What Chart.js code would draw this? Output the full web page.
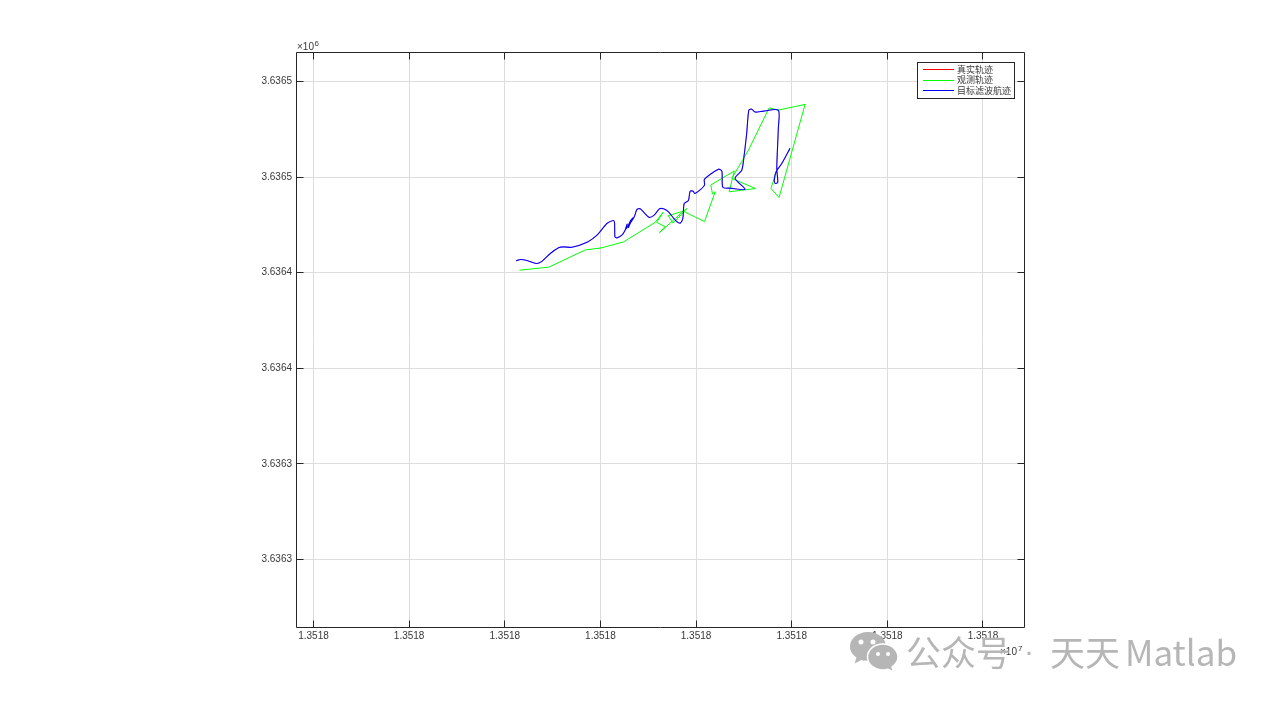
<!DOCTYPE html>
<html lang="zh">
<head>
<meta charset="UTF-8" />
<title>轨迹</title>
<script src="https://cdn.jsdelivr.net/npm/chart.js"></script>
<style>
  * { margin: 0; padding: 0; box-sizing: border-box; }
  body { background: #fff; width: 1276px; height: 704px; overflow: hidden; position: relative; }
  .mark { position: absolute; top: 625px; font: 35px/52px "Noto Sans CJK SC", sans-serif; color: #b6b6b6; white-space: nowrap; }
  #icon { position: absolute; left: 849px; top: 631px; }
</style>
</head>
<body>
<canvas id="chart" width="1276" height="704"></canvas>
<svg id="icon" width="50" height="41" viewBox="0 0 50 41">
  <path d="M19 1C9 1 1 7.500 1 15.500c0 4.500 2.500 8.500 6.500 11l-2 6 7-3.500c2 .6 4 .9 6.500 .9C29 30 37 23.500 37 15.500S29 1 19 1z" fill="#b6b6b6"/>
  <path d="M34 13c-9 0-15.500 6-15.500 13S25 39 34 39c2 0 3.500-.3 5-.8l5.500 2.800-1.500-5c3.500-2.500 6-6 6-10 0-7-6.500-13-15-13z" fill="#b6b6b6" stroke="#fff" stroke-width="1.500"/>
  <circle cx="12" cy="11" r="2.500" fill="#fff"/><circle cx="24" cy="11" r="2.500" fill="#fff"/>
  <circle cx="29" cy="23" r="2" fill="#fff"/><circle cx="39" cy="23" r="2" fill="#fff"/>
</svg>
<div class="mark" style="left:906px">公众号</div>
<div class="mark" style="left:1024px;font:30px/52px 'Liberation Sans',sans-serif">·</div>
<div class="mark" style="left:1050px">天天</div>
<div class="mark" style="left:1125px">Matlab</div>
<script>
const seriesNames = ['真实轨迹', '观测轨迹', '目标滤波航迹'];
const seriesColors = ['#ff0000', '#00ff00', '#0000ff'];

const xTicks = [13517850, 13517900, 13517950, 13518000, 13518050, 13518100, 13518150, 13518200];
const xTickLabels = ['1.3518', '1.3518', '1.3518', '1.3518', '1.3518', '1.3518', '1.3518', '1.3518'];
const yTicks = [3636250, 3636300, 3636350, 3636400, 3636450, 3636500];
const yTickLabels = ['3.6363', '3.6363', '3.6364', '3.6364', '3.6365', '3.6365'];

const filterX = [13517956.0, 13517958.1, 13517961.6, 13517966.5, 13517969.4, 13517973.8, 13517978.1, 13517980.7, 13517985.1,
  13517993.3, 13517998.2, 13518003.4, 13518006.8, 13518007.4, 13518007.6, 13518008.6, 13518011.2, 13518012.9, 13518014.0,
  13518013.2, 13518014.4, 13518015.9, 13518014.6, 13518016.8, 13518015.3, 13518017.7, 13518019.1, 13518020.8, 13518022.9, 13518025.5, 13518028.1, 13518030.9, 13518033.0,
  13518035.6, 13518039.1, 13518041.7, 13518043.1, 13518043.8, 13518046.0, 13518046.9, 13518048.6, 13518049.2, 13518052.1,
  13518054.4, 13518054.4, 13518061.7, 13518063.5, 13518064.0, 13518067.8, 13518075.6, 13518070.4, 13518073.9, 13518075.1,
  13518076.5, 13518077.6, 13518079.1, 13518080.9, 13518085.2, 13518093.0, 13518093.0, 13518092.2, 13518092.7, 13518091.3,
  13518090.9, 13518091.8, 13518094.8, 13518099.1];
const filterY = [3636406.2, 3636406.9, 3636406.4, 3636404.8, 3636405.9, 3636410.0, 3636413.0, 3636413.5, 3636413.3,
  3636416.1, 3636419.6, 3636425.7, 3636427.3, 3636425.9, 3636418.7, 3636418.2, 3636419.6, 3636422.2, 3636425.4,
  3636422.8, 3636424.4, 3636427.5, 3636423.6, 3636428.6, 3636425.6, 3636429.2, 3636433.1, 3636433.4, 3636431.3, 3636428.9, 3636430.1, 3636433.4, 3636433.4,
  3636431.8, 3636427.5, 3636425.9, 3636428.4, 3636436.2, 3636437.7, 3636442.6, 3636442.6, 3636441.4, 3636443.3,
  3636445.8, 3636448.9, 3636454.1, 3636453.1, 3636444.6, 3636444.2, 3636443.6, 3636449.3, 3636453.6, 3636461.1,
  3636473.2, 3636485.0, 3636485.5, 3636484.0, 3636484.5, 3636485.0, 3636475.4, 3636454.5, 3636447.2, 3636446.7,
  3636448.4, 3636452.7, 3636457.1, 3636465.0];

// the red true track lies fully under the blue one in the picture
const trueX = filterX;
const trueY = filterY;

const obsX = [13517957.7, 13517973.1, 13517992.1, 13518000.8, 13518012.1, 13518028.6, 13518032.8, 13518029.4, 13518033.8,
  13518030.9, 13518043.4, 13518035.4, 13518038.0, 13518045.2, 13518043.2, 13518054.4, 13518060.0, 13518058.6, 13518057.7, 13518070.0,
  13518067.3, 13518081.1, 13518068.7, 13518077.4, 13518088.2, 13518092.9, 13518107.0, 13518093.4, 13518089.2, 13518091.8];
const obsY = [3636401.3, 3636402.9, 3636411.9, 3636413.0, 3636416.1, 3636426.3, 3636431.6, 3636426.3, 3636424.1,
  3636420.9, 3636432.2, 3636429.8, 3636425.9, 3636433.5, 3636432.2, 3636426.7, 3636442.3, 3636441.1, 3636445.8, 3636453.2,
  3636442.3, 3636444.0, 3636449.3, 3636464.1, 3636486.2, 3636485.0, 3636488.0, 3636439.3, 3636444.0, 3636452.6];

const xRange = [13517840.85, 13518221.45];
const yRange = [3636214.7, 3636515.4];

const textColor = '#383838';
const axisColor = '#262626';
const labelFont = '10px "Liberation Sans", Arial, sans-serif';

function toPoints(xs, ys) {
  return xs.map((x, i) => ({ x: x, y: ys[i] }));
}

function makeDataset(i, xs, ys, order, width, tension) {
  return {
    label: seriesNames[i],
    data: toPoints(xs, ys),
    borderColor: seriesColors[i],
    borderWidth: width,
    pointRadius: 0,
    showLine: true,
    fill: false,
    tension: tension,
    order: order
  };
}

// frame, inward ticks on all four sides, exponents, boxed legend
const matlabAxes = {
  id: 'matlabAxes',
  afterDraw(chart) {
    const c = chart.ctx;
    const a = chart.chartArea;
    const sx = chart.scales.x;
    const sy = chart.scales.y;
    const L = Math.round(a.left) + 0.5, R = Math.round(a.right) + 0.5;
    const T = Math.round(a.top) + 0.5, B = Math.round(a.bottom) + 0.5;
    c.save();
    c.strokeStyle = axisColor;
    c.lineWidth = 1;
    c.beginPath();
    c.rect(L, T, R - L, B - T);
    xTicks.forEach(v => {
      const p = Math.floor(sx.getPixelForValue(v)) + 0.5;
      c.moveTo(p, T); c.lineTo(p, T + 7);
      c.moveTo(p, B); c.lineTo(p, B - 7);
    });
    yTicks.forEach(v => {
      const p = Math.floor(sy.getPixelForValue(v)) + 0.5;
      c.moveTo(L, p); c.lineTo(L + 7, p);
      c.moveTo(R, p); c.lineTo(R - 7, p);
    });
    c.stroke();

    // exponents
    c.fillStyle = textColor;
    c.textBaseline = 'alphabetic';
    c.textAlign = 'left';
    c.font = labelFont;
    c.fillText('×10', 297, 50);
    c.fillText('×10', 1000, 655);
    c.font = '8px "Liberation Sans", Arial, sans-serif';
    c.fillText('6', 314.5, 46);
    c.fillText('7', 1018, 651);

    // legend
    c.fillStyle = '#fff';
    c.fillRect(917.5, 62.5, 97, 36);
    c.strokeStyle = axisColor;
    c.strokeRect(917.5, 62.5, 97, 36);
    c.textBaseline = 'middle';
    c.font = '9px "Noto Sans CJK SC", sans-serif';
    seriesNames.forEach((name, i) => {
      const y = 69.5 + i * 10.5;
      c.strokeStyle = seriesColors[i];
      c.beginPath();
      c.moveTo(923, Math.floor(y) + 0.5);
      c.lineTo(954, Math.floor(y) + 0.5);
      c.stroke();
      c.fillStyle = textColor;
      c.fillText(name, 957, y);
    });
    c.restore();
  }
};

new Chart(document.getElementById('chart'), {
  type: 'scatter',
  data: {
    datasets: [
      makeDataset(0, trueX, trueY, 3, 0.4, 0.25),
      makeDataset(1, obsX, obsY, 2, 1, 0),
      makeDataset(2, filterX, filterY, 1, 1.1, 0.25)
    ]
  },
  options: {
    responsive: false,
    animation: false,
    layout: { padding: { left: 250, right: 252, top: 52, bottom: 47 } },
    plugins: { legend: { display: false }, tooltip: { enabled: false } },
    scales: {
      x: {
        type: 'linear',
        min: xRange[0],
        max: xRange[1],
        afterBuildTicks: s => { s.ticks = xTicks.map(v => ({ value: v })); },
        afterFit: s => { s.height = 30; },
        grid: { color: '#dcdcdc', drawTicks: false },
        border: { display: false },
        ticks: {
          color: textColor,
          font: { family: '"Liberation Sans", Arial, sans-serif', size: 10 },
          padding: 3,
          maxRotation: 0,
          autoSkip: false,
          callback: (v, i) => xTickLabels[i]
        }
      },
      y: {
        type: 'linear',
        min: yRange[0],
        max: yRange[1],
        afterBuildTicks: s => { s.ticks = yTicks.map(v => ({ value: v })); },
        afterFit: s => { s.width = 46; },
        grid: { color: '#dcdcdc', drawTicks: false },
        border: { display: false },
        ticks: {
          color: textColor,
          font: { family: '"Liberation Sans", Arial, sans-serif', size: 10 },
          padding: 4,
          autoSkip: false,
          callback: (v, i) => yTickLabels[i]
        }
      }
    }
  },
  plugins: [matlabAxes]
});
</script>
</body>
</html>
